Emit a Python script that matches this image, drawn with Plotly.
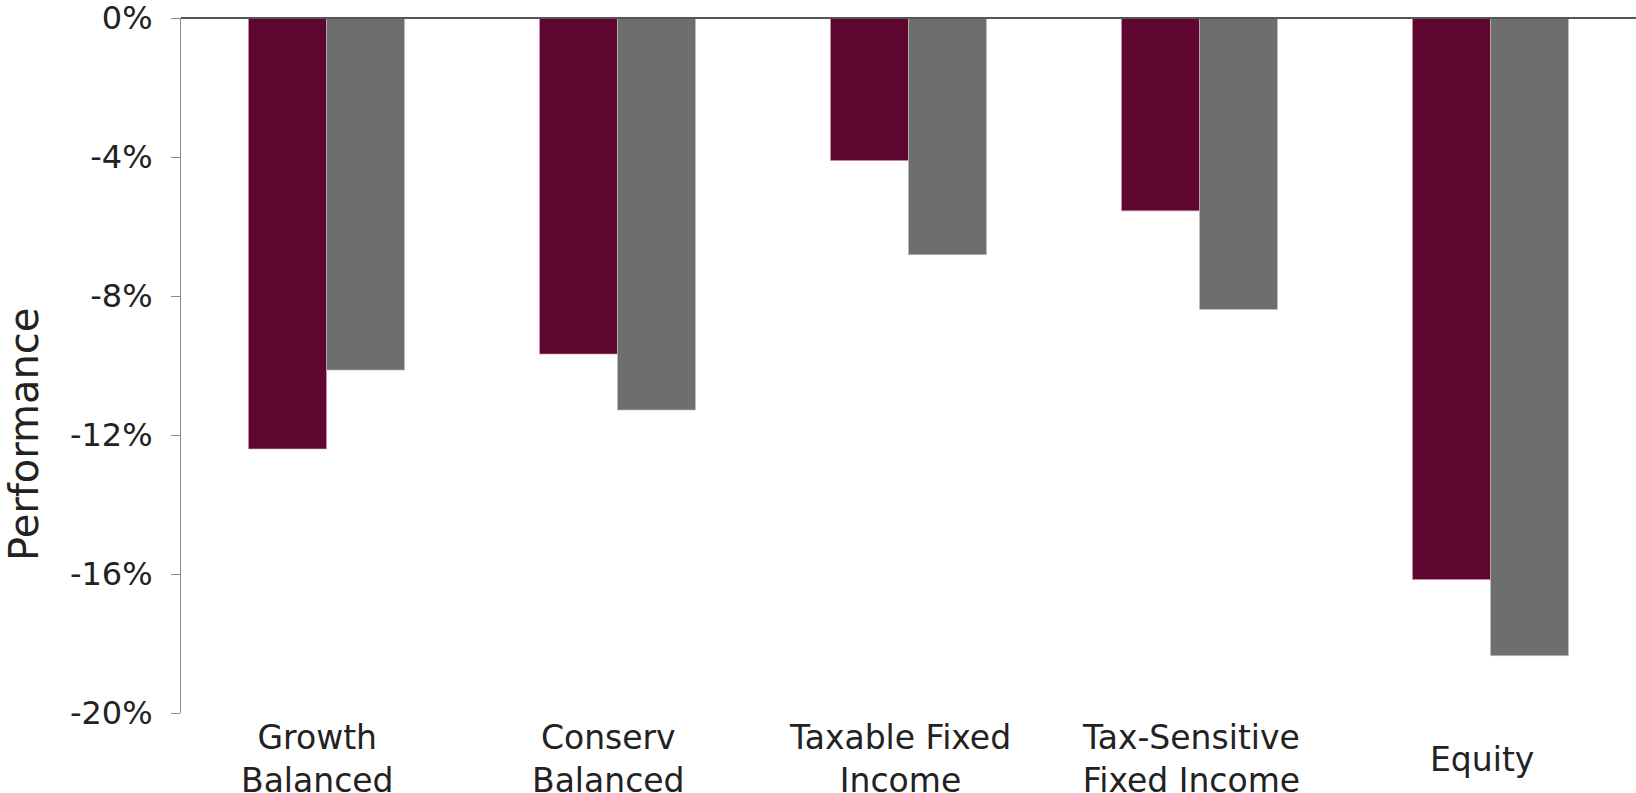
import plotly.graph_objects as go

categories = ["Growth Balanced", "Conserv Balanced", "Taxable Fixed Income",
              "Tax-Sensitive Fixed Income", "Equity"]
category_labels = ["Growth<br>Balanced", "Conserv<br>Balanced", "Taxable Fixed<br>Income",
                   "Tax-Sensitive<br>Fixed Income", "Equity"]
series_a = [-12.4, -9.67, -4.1, -5.55, -16.16]
series_b = [-10.13, -11.28, -6.81, -8.39, -18.35]
y_ticks = [0, -4, -8, -12, -16, -20]
y_tick_labels = ["0%", "-4%", "-8%", "-12%", "-16%", "-20%"]
y_title = "Performance"

FONT = "DejaVu Sans"
TEXT = "#222222"

fig = go.Figure()
fig.add_trace(go.Bar(x=categories, y=series_a, name="A",
                     marker=dict(color="#5E0530", line=dict(color="rgba(200,150,175,0.8)", width=0.8))))
fig.add_trace(go.Bar(x=categories, y=series_b, name="B",
                     marker=dict(color="#6E6E6E", line=dict(color="rgba(190,190,190,0.8)", width=0.8))))

fig.update_layout(
    width=1636, height=793,
    margin=dict(l=181, r=0, t=18, b=80),
    paper_bgcolor="white", plot_bgcolor="white",
    barmode="group", bargap=0.464, bargroupgap=0,
    showlegend=False,
    font=dict(family=FONT, size=32, color=TEXT),
)
fig.update_xaxes(showgrid=False, showline=False, ticks="", zeroline=False, automargin=False,
                 showticklabels=False)
fig.update_yaxes(range=[-20, 0], tickvals=y_ticks, ticktext=y_tick_labels, automargin=False,
                 showgrid=False, zeroline=False, showline=True, linecolor="#8C8C8C", linewidth=1,
                 ticks="outside", ticklen=9, tickcolor="#8C8C8C", tickwidth=1,
                 tickfont=dict(size=32), ticklabelstandoff=12, ticklabeloverflow="allow")
# horizontal axis line at the 0% level (top of the plot area), drawn above the bars
fig.add_shape(type="line", xref="paper", yref="paper", x0=0, x1=1, y0=1, y1=1,
              line=dict(color="#555555", width=2), layer="above")

# category labels (two-line labels top-aligned, single-line label centred between the lines)
for cat, label in zip(categories, category_labels):
    two_line = "<br>" in label
    fig.add_annotation(x=cat, xref="x", y=0, yref="paper", yanchor="top",
                       xshift=-9, yshift=-3 if two_line else -25,
                       text=label, showarrow=False, align="center",
                       font=dict(size=33, color=TEXT))

# y-axis title
fig.add_annotation(x=0, xref="paper", y=0.4, yref="paper", xanchor="center", yanchor="middle",
                   xshift=-157, textangle=-90, text=y_title, showarrow=False,
                   font=dict(size=40, color=TEXT))

fig.write_html("out.html", config={"displayModeBar": False},
               post_script="document.body.style.margin='0px';")
